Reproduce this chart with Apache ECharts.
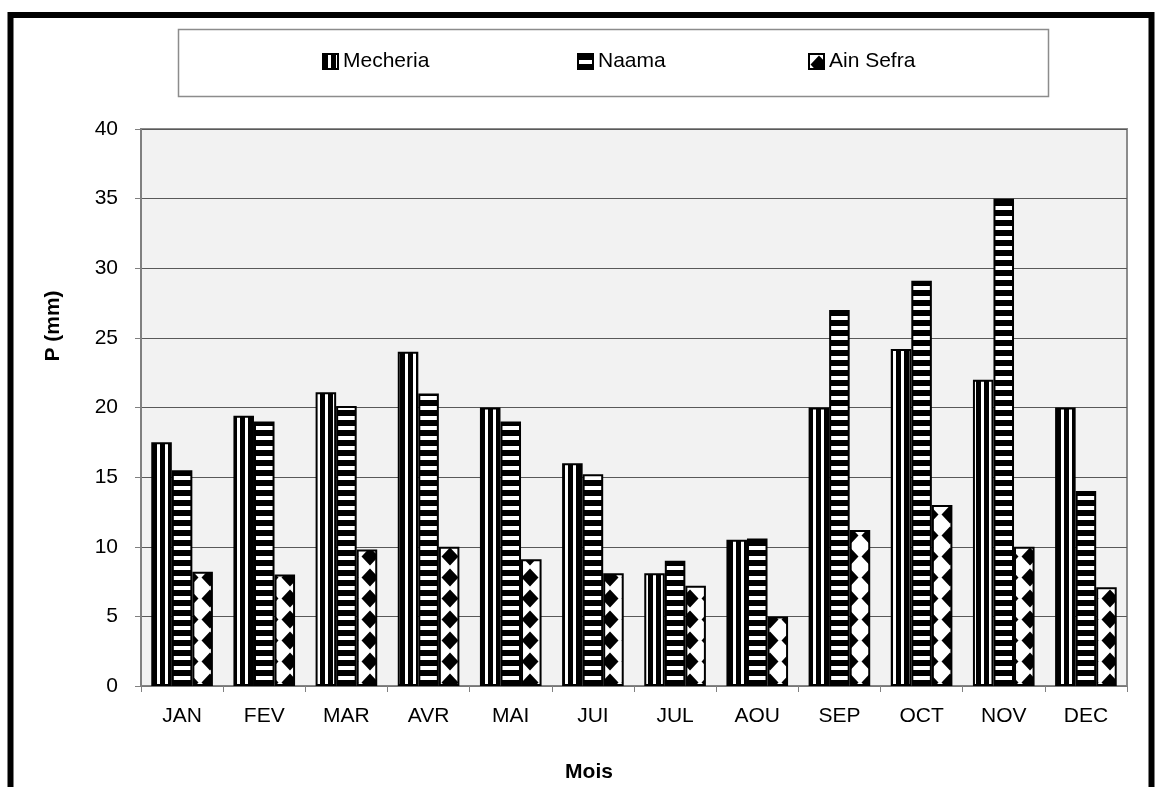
<!DOCTYPE html>
<html>
<head>
<meta charset="utf-8">
<script src="https://cdn.jsdelivr.net/npm/echarts@6/dist/echarts.min.js"></script>
<style>
html,body{margin:0;padding:0;background:#fff;}
#c{width:1158px;height:787px;}
</style>
</head>
<body>
<div id="c"></div>
<script>
const months = ['JAN','FEV','MAR','AVR','MAI','JUI','JUL','AOU','SEP','OCT','NOV','DEC'];
const mecheria = [17.5,19.4,21.1,24,20,16,8.1,10.5,20,24.2,22,20];
const naama = [15.5,19,20.1,21,19,15.2,9,10.6,27,29.1,35,14];
const ainSefra = [8.2,8,9.8,10,9.1,8.1,7.2,5,11.2,13,10,7.1];
const seriesNames = ['Mecheria','Naama','Ain Sefra'];
const yTicks = {min:0, max:40, interval:5};

function makeCanvas(w,h,draw){
  const c=document.createElement('canvas'); c.width=w; c.height=h;
  const ctx=c.getContext('2d'); ctx.fillStyle='#fff'; ctx.fillRect(0,0,w,h);
  ctx.fillStyle='#000'; draw(ctx); return c;
}
const patV = makeCanvas(8,8,ctx=>{ctx.fillRect(0,0,5,8);});
const patH = makeCanvas(8,10,ctx=>{ctx.fillRect(0,0,8,6);});
const patD = makeCanvas(20,21,ctx=>{
  ctx.beginPath(); ctx.moveTo(10,1.5); ctx.lineTo(18.5,10.5); ctx.lineTo(10,19.5); ctx.lineTo(1.5,10.5); ctx.closePath(); ctx.fill();
});
const patterns=[patV,patH,patD];
const FONT='Liberation Sans';

const chart=echarts.init(document.getElementById('c'),null,{renderer:'canvas'});
const dataSets=[mecheria,naama,ainSefra];
const legendLefts=[322,577,808];

chart.setOption({
  animation:false,
  backgroundColor:'#fff',
  graphic:[
    {type:'rect',z:0,shape:{x:10.5,y:15,width:1141,height:900},style:{fill:'none',stroke:'#000',lineWidth:6}},
    {type:'rect',z:0,shape:{x:178.5,y:29.5,width:870,height:67},style:{fill:'#fff',stroke:'#8c8c8c',lineWidth:1.5}},
    {type:'text',z:10,x:53,y:326,rotation:Math.PI/2,style:{text:'P (mm)',font:'bold 21px "Liberation Sans"',fill:'#000',align:'center',verticalAlign:'middle'}},
    {type:'text',z:10,x:589,y:772,style:{text:'Mois',font:'bold 21px "Liberation Sans"',fill:'#000',align:'center',verticalAlign:'middle'}}
  ],
  legend: seriesNames.map((n,i)=>({
    data:[n], left:legendLefts[i], top:51, padding:0, itemWidth:15, itemHeight:15, itemGap:5, icon:'rect',
    textStyle:{fontFamily:FONT,fontSize:21,color:'#000',padding:[0,0,0,0]}
  })),
  grid:{left:141,right:31,top:129,bottom:101,show:true,backgroundColor:'#f2f2f2',borderColor:'#8c8c8c',borderWidth:2},
  xAxis:{
    type:'category',data:months,boundaryGap:true,
    axisLine:{lineStyle:{color:'#808080',width:1.5}},
    axisTick:{show:true,inside:false,length:6,alignWithLabel:false,lineStyle:{color:'#808080'}},
    axisLabel:{color:'#000',fontFamily:FONT,fontSize:21,margin:20},
    splitLine:{show:false}
  },
  yAxis:{
    type:'value',min:yTicks.min,max:yTicks.max,interval:yTicks.interval,
    axisLine:{show:true,lineStyle:{color:'#808080',width:2}},
    axisTick:{show:true,length:6,lineStyle:{color:'#808080'}},
    axisLabel:{color:'#000',fontFamily:FONT,fontSize:21,margin:23},
    splitLine:{show:true,lineStyle:{color:'#595959',width:1}}
  },
  series: seriesNames.map((n,i)=>({
    name:n,type:'bar',data:dataSets[i],barGap:'0%',barCategoryGap:'25%',
    itemStyle:{color:{image:patterns[i],repeat:'repeat'},borderColor:'#000',borderWidth:2},
    emphasis:{disabled:true}
  }))
});
</script>
</body>
</html>
